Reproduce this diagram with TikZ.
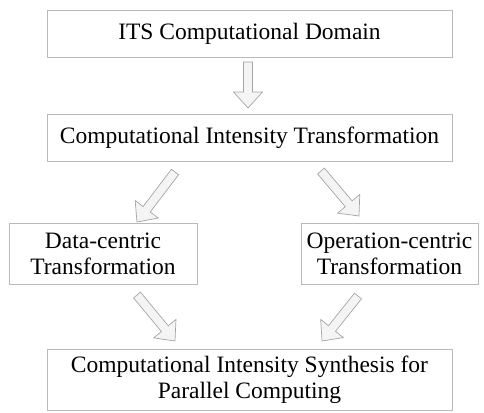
\documentclass[tikz,border=0pt]{standalone}
\usepackage{fontspec}
\setmainfont{Liberation Serif}
\usetikzlibrary{calc}
\definecolor{boxline}{RGB}{185,185,185}
\definecolor{arrline}{RGB}{165,165,165}
\definecolor{arrfill}{RGB}{244,244,244}
\tikzset{
  box/.style={draw=boxline, line width=0.8pt, fill=white, align=center, inner sep=2pt,
    font=\fontsize{23.5}{26}\selectfont, text=black},
  blockarr/.style={draw=arrline, line width=0.7pt, fill=arrfill, line join=miter}
}
% \barrow{name}{start}{end}
\newcommand{\barrow}[3]{%
  \coordinate (#1s) at #2;
  \coordinate (#1e) at #3;
  \coordinate (#1h) at ($(#1e)!16pt!(#1s)$);
  \draw[blockarr]
    ($(#1s)!4.5pt!90:(#1e)$) --
    ($(#1h)!4.5pt!90:(#1e)$) --
    ($(#1h)!14.5pt!90:(#1e)$) --
    (#1e) --
    ($(#1h)!14.5pt!-90:(#1e)$) --
    ($(#1h)!4.5pt!-90:(#1e)$) --
    ($(#1s)!4.5pt!-90:(#1e)$) -- cycle;
}
\begin{document}
\begin{tikzpicture}[x=1pt,y=-1pt]
\useasboundingbox (0,0) rectangle (484,412);
\node[box, minimum width=405pt, minimum height=47pt] (b1) at (249.5,33.5) {ITS Computational Domain};
\node[box, minimum width=405pt, minimum height=47pt] (b2) at (249.5,137.5) {Computational Intensity Transformation};
\node[box, minimum width=188pt, minimum height=61pt] (b3l) at (103,253.5) {Data-centric\\Transformation};
\node[box, minimum width=177pt, minimum height=61pt] (b3r) at (389.5,253.5) {Operation-centric\\Transformation};
\node[box, minimum width=405pt, minimum height=61pt] (b4) at (249.5,379.5) {Computational Intensity Synthesis for\\Parallel Computing};
\barrow{aa}{(248,62)}{(248,108)}
\barrow{ab}{(175,172)}{(137,222)}
\barrow{ac}{(321,171)}{(359,216)}
\barrow{ad}{(137,295)}{(175,341)}
\barrow{ae}{(358,296)}{(322,341)}
\end{tikzpicture}
\end{document}
